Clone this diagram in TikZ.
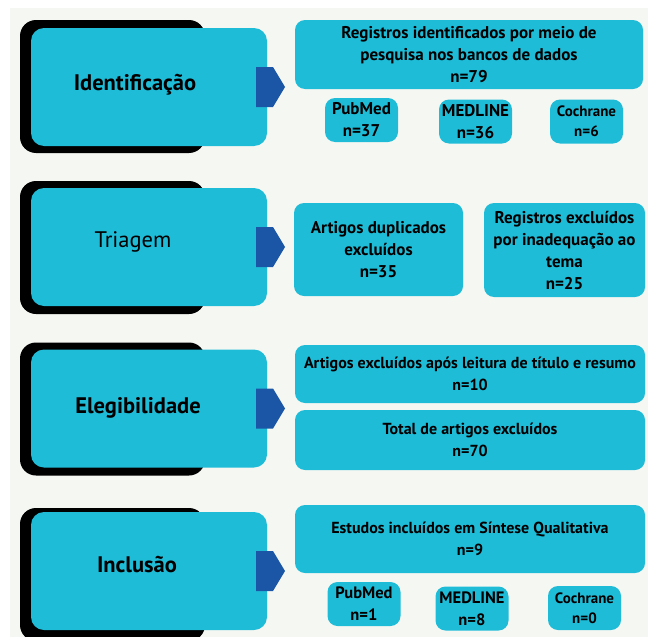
\documentclass[tikz,border=0pt]{standalone}
\usepackage{fontspec}
\setmainfont{PT Sans}
\usepackage{tikz}
\definecolor{stagecyan}{HTML}{1FBCD8}
\definecolor{markblue}{HTML}{1A56A5}
\definecolor{paper}{HTML}{F5F7F2}
\tikzset{
	every node/.style={inner sep=0pt, align=center},
	shadowbox/.style={fill=black, rounded corners=16pt, minimum width=185pt, minimum height=133pt}, % black frame behind a stage
	stage/.style={fill=stagecyan, rounded corners=13pt, minimum width=236pt, minimum height=118pt},
	stagetext/.style={font=\fontsize{22.5}{26}\selectfont\bfseries},
	infobox/.style={fill=stagecyan, rounded corners=10pt, font=\fontsize{17}{22}\selectfont\bfseries},
	lowbox/.style={infobox, font=\fontsize{16}{22}\selectfont\bfseries}, % lower rows, a bit smaller
	dbbox/.style={infobox, minimum width=73pt, minimum height=44pt}, % one database
	smalldb/.style={dbbox, font=\fontsize{15}{20}\selectfont\bfseries},
}

\begin{document}
\begin{tikzpicture}[x=1pt, y=-1pt]
	\useasboundingbox (0,0) rectangle (648,637);
	\fill[paper] (10,8) rectangle (648,637);

	% the four stages, with their blue markers
	\foreach \n/\y/\s in {id/87/86.5, tri/247/247.5, ele/408.5/409, inc/571/574.5} {
		\node[shadowbox] (\n-sh) at (112.5,\s) {};
		\node[stage] (\n) at (149,\y) {};
		\fill[markblue] (256,\y-20) -- (273,\y-20) -- (285,\y) -- (273,\y+20) -- (256,\y+20) -- cycle;
	}
	\node[stagetext] (idt) at (135,85) {Identificação};
	\node[stagetext, font=\fontsize{22.5}{26}\selectfont] (trit) at (133,242) {Triagem};
	\node[stagetext] (elet) at (138,408) {Elegibilidade};
	\node[stagetext] (inct) at (137,565) {Inclusão};

	% identificacao
	\node[infobox, minimum width=348pt, minimum height=69pt] (reg) at (469,54.5) {Registros identificados por meio de\\ pesquisa nos bancos de dados\\ n=79};
	\node[dbbox] (pub1) at (361.5,120) {PubMed\\ n=37};
	\node[dbbox] (med1) at (475.5,121.5) {MEDLINE\\ n=36};
	\node[smalldb] (coc1) at (586.5,121.5) {Cochrane\\ n=6};

	% triagem
	\node[infobox, minimum width=169pt, minimum height=93pt] (dup) at (378.5,249.5) {Artigos duplicados\\ excluídos\\ n=35};
	\node[infobox, minimum width=161pt, minimum height=94pt] (ina) at (564.5,250) {Registros excluídos\\ por inadequação ao\\ tema\\ n=25};

	% elegibilidade
	\node[lowbox, minimum width=350pt, minimum height=58pt] (tit) at (470,374) {Artigos excluídos após leitura de título e resumo\\ n=10};
	\node[lowbox, minimum width=350pt, minimum height=60pt] (tot) at (470,440) {Total de artigos excluídos\\ n=70};

	% inclusao
	\node[lowbox, minimum width=350pt, minimum height=68pt] (syn) at (470,539) {Estudos incluídos em Síntese Qualitativa\\ n=9};
	\node[dbbox, font=\fontsize{16.5}{22}\selectfont\bfseries] (pub2) at (364,604) {PubMed\\ n=1};
	\node[dbbox, font=\fontsize{16.5}{22}\selectfont\bfseries] (med2) at (472,608.5) {MEDLINE\\ n=8};
	\node[smalldb] (coc2) at (584.5,608) {Cochrane\\ n=0};
\end{tikzpicture}
\end{document}
